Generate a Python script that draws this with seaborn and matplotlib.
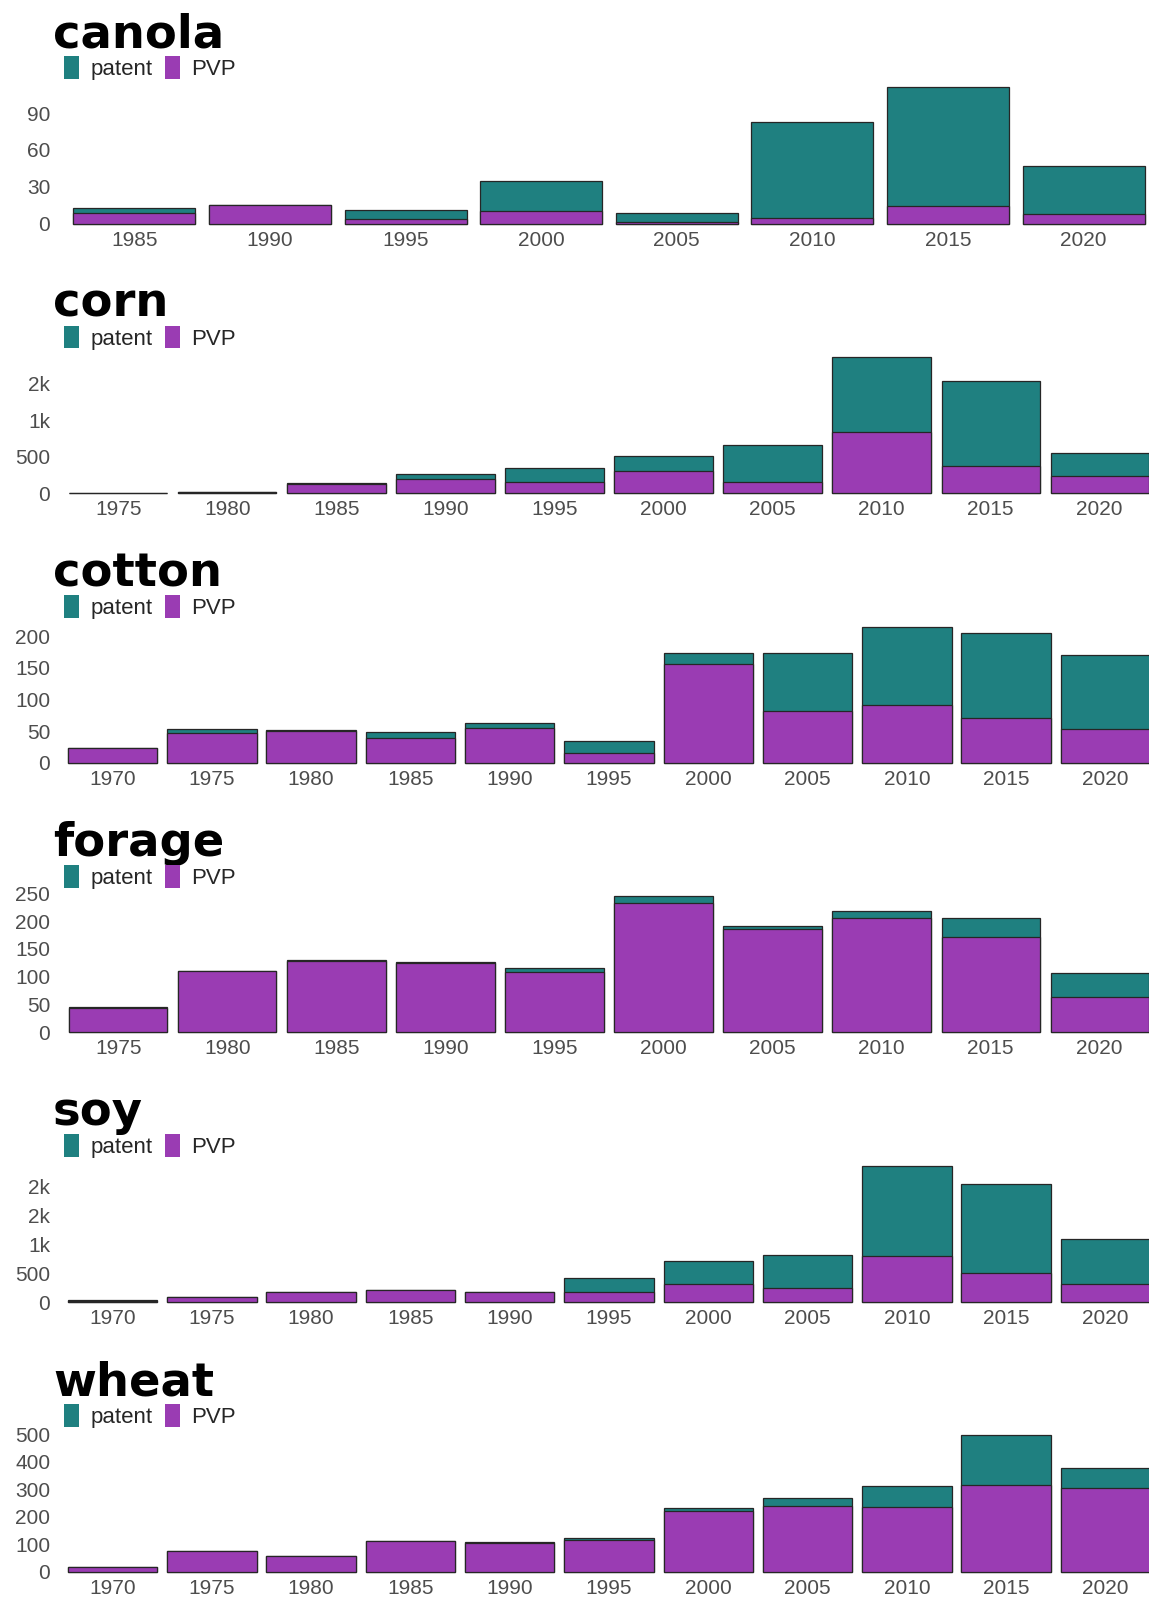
import matplotlib
matplotlib.use("Agg")
import matplotlib.pyplot as plt
from matplotlib.patches import Patch
import seaborn as sns
import pandas as pd

# ---------------- data ----------------
crops = ["canola", "corn", "cotton", "forage", "soy", "wheat"]

canola_years = [1985, 1990, 1995, 2000, 2005, 2010, 2015, 2020]
canola_pvp = [9, 15, 4, 10, 1, 5, 14, 8]
canola_patent = [4, 0, 7, 25, 8, 78, 97, 39]

corn_years = [1975, 1980, 1985, 1990, 1995, 2000, 2005, 2010, 2015, 2020]
corn_pvp = [5, 12, 122, 195, 155, 307, 160, 847, 375, 238]
corn_patent = [3, 3, 14, 70, 192, 210, 504, 1024, 1160, 312]

cotton_years = [1970, 1975, 1980, 1985, 1990, 1995, 2000, 2005, 2010, 2015, 2020]
cotton_pvp = [24, 47, 50, 40, 55, 16, 156, 82, 92, 71, 54]
cotton_patent = [0, 6, 2, 8, 8, 19, 18, 91, 123, 134, 116]

forage_years = [1975, 1980, 1985, 1990, 1995, 2000, 2005, 2010, 2015, 2020]
forage_pvp = [44, 111, 128, 125, 109, 233, 186, 206, 172, 64]
forage_patent = [2, 0, 2, 1, 7, 12, 6, 13, 34, 42]

soy_years = [1970, 1975, 1980, 1985, 1990, 1995, 2000, 2005, 2010, 2015, 2020]
soy_pvp = [25, 93, 175, 204, 174, 174, 309, 250, 804, 495, 320]
soy_patent = [5, 0, 0, 0, 0, 243, 408, 572, 1556, 1545, 764]

wheat_years = [1970, 1975, 1980, 1985, 1990, 1995, 2000, 2005, 2010, 2015, 2020]
wheat_pvp = [17, 74, 58, 111, 106, 116, 220, 239, 235, 317, 306]
wheat_patent = [0, 0, 0, 0, 2, 7, 11, 30, 78, 179, 71]

canola_yticks = [0, 30, 60, 90]
canola_ylabels = ["0", "30", "60", "90"]
corn_yticks = [0, 500, 1000, 1500]
corn_ylabels = ["0", "500", "1k", "2k"]
cotton_yticks = [0, 50, 100, 150, 200]
cotton_ylabels = ["0", "50", "100", "150", "200"]
forage_yticks = [0, 50, 100, 150, 200, 250]
forage_ylabels = ["0", "50", "100", "150", "200", "250"]
soy_yticks = [0, 500, 1000, 1500, 2000]
soy_ylabels = ["0", "500", "1k", "2k", "2k"]
wheat_yticks = [0, 100, 200, 300, 400, 500]
wheat_ylabels = ["0", "100", "200", "300", "400", "500"]

series_names = ["patent", "PVP"]

panels = [
    ("canola", canola_years, canola_patent, canola_pvp, canola_yticks, canola_ylabels),
    ("corn", corn_years, corn_patent, corn_pvp, corn_yticks, corn_ylabels),
    ("cotton", cotton_years, cotton_patent, cotton_pvp, cotton_yticks, cotton_ylabels),
    ("forage", forage_years, forage_patent, forage_pvp, forage_yticks, forage_ylabels),
    ("soy", soy_years, soy_patent, soy_pvp, soy_yticks, soy_ylabels),
    ("wheat", wheat_years, wheat_patent, wheat_pvp, wheat_yticks, wheat_ylabels),
]

# ---------------- style ----------------
sns.set_style("white")
plt.rcParams["font.family"] = ["Liberation Sans", "DejaVu Sans"]

TEAL = "#1f8080"
PURPLE = "#9a3cb3"
EDGE = "#262626"
TICKC = "#4d4d4d"

W, H = 1149, 1598
fig = plt.figure(figsize=(W / 100, H / 100), dpi=100)
fig.patch.set_facecolor("white")

PERIOD = 269.6
AX_TOP0 = 80.5
AX_H = 150
AX_L = 53
AX_W = 1112

for i, (name, years, patent, pvp, yticks, ylabels) in enumerate(panels):
    off = i * PERIOD
    top = AX_TOP0 + off
    ax = fig.add_axes([AX_L / W, 1 - (top + AX_H) / H, AX_W / W, AX_H / H])
    df = pd.DataFrame({
        "year": [str(y) for y in years],
        "patent": patent,
        "PVP": pvp,
    })
    df["total"] = df["patent"] + df["PVP"]
    order = list(df["year"])
    sns.barplot(data=df, x="year", y="total", order=order, color=TEAL,
                saturation=1, width=0.9, edgecolor=EDGE, linewidth=0.9,
                errorbar=None, ax=ax)
    sns.barplot(data=df, x="year", y="PVP", order=order, color=PURPLE,
                saturation=1, width=0.9, edgecolor=EDGE, linewidth=0.9,
                errorbar=None, ax=ax)
    n = len(order)
    ax.set_xlim(-0.6, n - 0.4)
    ymax = df["total"].max()
    ax.set_ylim(-0.05 * ymax, 1.05 * ymax)
    ax.set_yticks(yticks)
    ax.set_yticklabels(ylabels)
    ax.set_xlabel("")
    ax.set_ylabel("")
    for s in ax.spines.values():
        s.set_visible(False)
    ax.grid(False)
    ax.tick_params(axis="both", length=0, labelsize=15, labelcolor=TICKC)
    ax.tick_params(axis="x", pad=0)
    ax.tick_params(axis="y", pad=2)
    ax.set_facecolor("white")

    # title
    fig.text(AX_L / W, 1 - (47 + off) / H, name, fontsize=33.5,
             fontweight="bold", ha="left", va="baseline", color="black",
             family=["DejaVu Sans"])
    # legend
    handles = [Patch(facecolor=TEAL, edgecolor="none", label=series_names[0]),
               Patch(facecolor=PURPLE, edgecolor="none", label=series_names[1])]
    fig.legend(handles=handles, loc="center left",
               bbox_to_anchor=(64 / W, 1 - (68 + off) / H),
               bbox_transform=fig.transFigure, ncol=2, frameon=False,
               fontsize=16, handlelength=0.68, handleheight=1.2,
               handletextpad=0.5, columnspacing=0.55, borderpad=0,
               borderaxespad=0)

fig.savefig("out.png", dpi=100, facecolor="white")
